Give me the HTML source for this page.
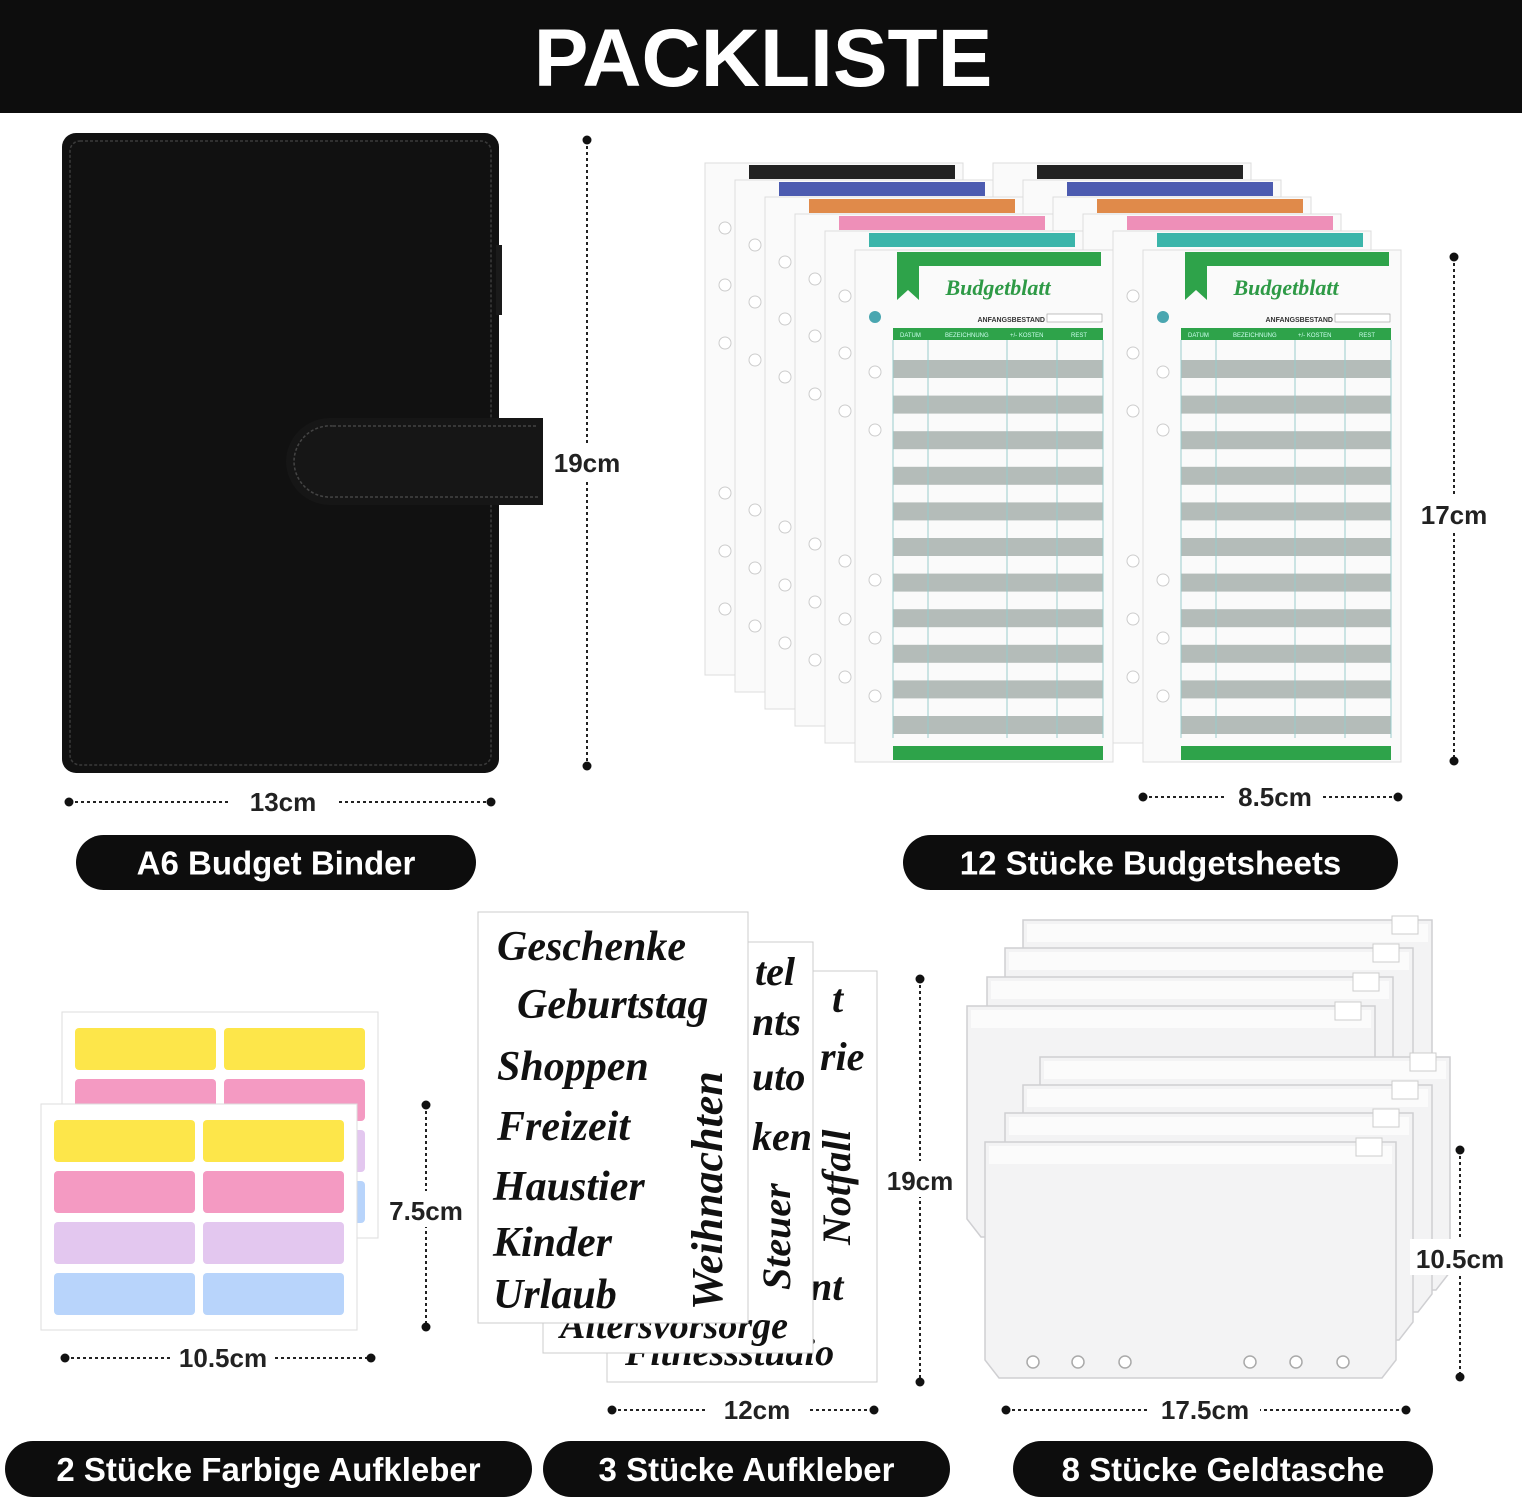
<!DOCTYPE html>
<html><head><meta charset="utf-8">
<style>
html,body{margin:0;padding:0;background:#fff;}
body{width:1522px;height:1500px;overflow:hidden;position:relative;font-family:"Liberation Sans",sans-serif;}
svg{position:absolute;left:0;top:0;}
</style></head>
<body>
<svg id="s" width="1522" height="1500" viewBox="0 0 1522 1500" xmlns="http://www.w3.org/2000/svg">
<rect x="0" y="0" width="1522" height="113" fill="#0d0d0d"/>
<text x="763" y="86" text-anchor="middle" font-family="Liberation Sans" font-weight="bold" font-size="82" fill="#fff">PACKLISTE</text>
<rect x="62" y="133" width="437" height="640" rx="14" fill="#111"/>
<rect x="70" y="141" width="421" height="624" rx="10" fill="none" stroke="#3a3a3a" stroke-width="1.5" stroke-dasharray="3 2"/>
<rect x="496" y="245" width="6" height="70" fill="#1a1a1a"/>
<path d="M330 418 H543 V505 H330 A44 44 0 0 1 286 461 A44 44 0 0 1 330 418Z" fill="#161616"/>
<path d="M333 426 H538 M538 497 H333 A36 36 0 0 1 294 461 A36 36 0 0 1 333 426" fill="none" stroke="#444" stroke-width="1.5" stroke-dasharray="3 2"/>
<g id="g"></g>
</svg>
<script>
var g=document.getElementById('g');var h='';
function dimV(x,y1,y2){h+='<line x1="'+x+'" y1="'+y1+'" x2="'+x+'" y2="'+y2+'" stroke="#222" stroke-width="2" stroke-dasharray="3 3"/><circle cx="'+x+'" cy="'+y1+'" r="4.5" fill="#111"/><circle cx="'+x+'" cy="'+y2+'" r="4.5" fill="#111"/>';}
function dimH(y,x1,x2){h+='<line x1="'+x1+'" y1="'+y+'" x2="'+x2+'" y2="'+y+'" stroke="#222" stroke-width="2" stroke-dasharray="3 3"/><circle cx="'+x1+'" cy="'+y+'" r="4.5" fill="#111"/><circle cx="'+x2+'" cy="'+y+'" r="4.5" fill="#111"/>';}
function lbl(x,y,t,w){h+='<rect x="'+(x-w/2)+'" y="'+(y-20)+'" width="'+w+'" height="36" fill="#fff"/><text x="'+x+'" y="'+(y+9)+'" text-anchor="middle" font-weight="bold" font-size="26" fill="#222">'+t+'</text>';}
function pill(x1,x2,y1,y2,t){h+='<rect x="'+x1+'" y="'+y1+'" width="'+(x2-x1)+'" height="'+(y2-y1)+'" rx="'+((y2-y1)/2)+'" fill="#0d0d0d"/><text x="'+((x1+x2)/2)+'" y="'+((y1+y2)/2+12)+'" text-anchor="middle" font-weight="bold" font-size="33" fill="#fff">'+t+'</text>';}
dimV(587,140,766);lbl(587,463,'19cm',80);
dimH(802,69,491);lbl(283,802,'13cm',110);
pill(76,476,835,890,'A6 Budget Binder');
var cols=['#222','#4c5bb0','#e08a4a','#ee8fb8','#3bb5aa'];
function stack(x0){
 for(var i=0;i<5;i++){var x=x0+i*30,y=163+i*17;
  h+='<rect x="'+x+'" y="'+y+'" width="258" height="512" fill="#fafafa" stroke="#ddd"/>';
  h+='<rect x="'+(x+44)+'" y="'+(y+2)+'" width="206" height="14" fill="'+cols[i]+'"/>';
  [65,122,180,330,388,446].forEach(function(d){h+='<circle cx="'+(x+20)+'" cy="'+(y+d)+'" r="6" fill="#fff" stroke="#ccc"/>';});
 }
 var x=x0+150,y=250;
 h+='<rect x="'+x+'" y="'+y+'" width="258" height="512" fill="#fafafa" stroke="#ddd"/>';
 h+='<path d="M'+(x+42)+' '+(y+2)+' H'+(x+246)+' V'+(y+16)+' H'+(x+64)+' V'+(y+50)+' L'+(x+53)+' '+(y+40)+' L'+(x+42)+' '+(y+50)+'Z" fill="#2ea34a"/>';
 h+='<text x="'+(x+143)+'" y="'+(y+45)+'" text-anchor="middle" font-family="Liberation Serif" font-style="italic" font-weight="bold" font-size="22" fill="#2e9a46">Budgetblatt</text>';
 h+='<text x="'+(x+190)+'" y="'+(y+72)+'" text-anchor="end" font-size="7" font-weight="bold" fill="#333">ANFANGSBESTAND</text><rect x="'+(x+192)+'" y="'+(y+64)+'" width="55" height="8" fill="#fff" stroke="#999" stroke-width=".6"/>';
 h+='<circle cx="'+(x+20)+'" cy="'+(y+67)+'" r="6" fill="#4aa6b0"/>';
 h+='<rect x="'+(x+38)+'" y="'+(y+78)+'" width="210" height="12" fill="#2ea34a"/>';
 h+='<text x="'+(x+45)+'" y="'+(y+87)+'" font-size="6" fill="#cfe">DATUM</text><text x="'+(x+90)+'" y="'+(y+87)+'" font-size="6" fill="#cfe">BEZEICHNUNG</text><text x="'+(x+155)+'" y="'+(y+87)+'" font-size="6" fill="#cfe">+/- KOSTEN</text><text x="'+(x+216)+'" y="'+(y+87)+'" font-size="6" fill="#cfe">REST</text>';
 for(var r=0;r<11;r++){h+='<rect x="'+(x+38)+'" y="'+(y+110+r*35.6)+'" width="210" height="18" fill="#b4bcb9"/>';}
 [38,73,152,202,248].forEach(function(d){h+='<line x1="'+(x+d)+'" y1="'+(y+90)+'" x2="'+(x+d)+'" y2="'+(y+488)+'" stroke="#9cc" stroke-width="1"/>';});
 h+='<rect x="'+(x+38)+'" y="'+(y+496)+'" width="210" height="14" fill="#2ea34a"/>';
 [122,180,330,388,446].forEach(function(d){h+='<circle cx="'+(x+20)+'" cy="'+(y+d)+'" r="6" fill="#fff" stroke="#ccc"/>';});
}
stack(993);stack(705);
dimV(1454,257,761);lbl(1454,515,'17cm',80);
dimH(797,1143,1398);lbl(1275,797,'8.5cm',96);
pill(903,1398,835,890,'12 Stücke Budgetsheets');
function lab(x,y){
 h+='<rect x="'+x+'" y="'+y+'" width="316" height="226" fill="#fff" stroke="#ddd"/>';
 var c=['#fde64a','#f49ac2','#e3c7ef','#b8d4fb'];
 for(var r=0;r<4;r++)for(var k=0;k<2;k++){h+='<rect x="'+(x+13+k*149)+'" y="'+(y+16+r*51)+'" width="141" height="42" rx="4" fill="'+c[r]+'"/>';}
}
lab(62,1012);lab(41,1104);
dimV(426,1105,1327);lbl(426,1211,'7.5cm',84);
dimH(1358,65,371);lbl(223,1358,'10.5cm',104);
function st(x,y){h+='<rect x="'+x+'" y="'+y+'" width="270" height="411" fill="#fff" stroke="#ccc"/>';}
st(607,971);
var f='font-family="Liberation Serif" font-style="italic" font-weight="bold" fill="#111"';
h+='<text x="820" y="1070" font-size="40" '+f+'>rie</text><text x="832" y="1012" font-size="40" '+f+'>t</text><text x="810" y="1300" font-size="40" '+f+'>nt</text><text x="625" y="1365" font-size="38" '+f+'>Fitnessstudio</text><text x="850" y="1245" font-size="40" '+f+' transform="rotate(-90 850 1245)">Notfall</text>';
st(543,942);
h+='<text x="755" y="985" font-size="40" '+f+'>tel</text><text x="752" y="1035" font-size="40" '+f+'>nts</text><text x="752" y="1090" font-size="40" '+f+'>uto</text><text x="752" y="1150" font-size="40" '+f+'>ken</text><text x="560" y="1338" font-size="38" '+f+'>Altersvorsorge</text><text x="790" y="1290" font-size="40" '+f+' transform="rotate(-90 790 1290)">Steuer</text>';
st(478,912);
h+='<text x="497" y="960" font-size="42" '+f+'>Geschenke</text><text x="517" y="1018" font-size="42" '+f+'>Geburtstag</text><text x="497" y="1080" font-size="42" '+f+'>Shoppen</text><text x="497" y="1140" font-size="42" '+f+'>Freizeit</text><text x="493" y="1200" font-size="42" '+f+'>Haustier</text><text x="493" y="1256" font-size="42" '+f+'>Kinder</text><text x="493" y="1308" font-size="42" '+f+'>Urlaub</text><text x="722" y="1310" font-size="44" '+f+' transform="rotate(-90 722 1310)">Weihnachten</text>';
dimV(920,979,1382);lbl(920,1181,'19cm',80);
dimH(1410,612,874);lbl(757,1410,'12cm',100);
function pouch(x1,y1,x2,y2){h+='<path d="M'+x1+' '+y1+' H'+x2+' V'+(y2-18)+' L'+(x2-14)+' '+y2+' H'+(x1+14)+' L'+x1+' '+(y2-18)+'Z" fill="#f3f3f4" stroke="#cfcfd2" stroke-width="1.5"/><rect x="'+(x1+4)+'" y="'+(y1+4)+'" width="'+(x2-x1-8)+'" height="18" fill="#fbfbfb"/><rect x="'+(x2-40)+'" y="'+(y1-4)+'" width="26" height="18" fill="#fff" stroke="#ccc"/>';}
pouch(1023,920,1432,1180);pouch(1005,948,1413,1200);pouch(987,977,1393,1220);pouch(967,1006,1375,1237);
pouch(1040,1057,1450,1290);pouch(1023,1085,1432,1312);pouch(1005,1113,1413,1340);pouch(985,1142,1396,1378);
[1033,1078,1125,1250,1296,1343].forEach(function(c){h+='<circle cx="'+c+'" cy="1362" r="6" fill="#fff" stroke="#aaa" stroke-width="1.5"/>';});
dimV(1460,1150,1377);lbl(1460,1259,'10.5cm',100);
dimH(1410,1006,1406);lbl(1205,1410,'17.5cm',110);
pill(5,532,1441,1497,'2 Stücke Farbige Aufkleber');
pill(543,950,1441,1497,'3 Stücke Aufkleber');
pill(1013,1433,1441,1497,'8 Stücke Geldtasche');
g.innerHTML=h;
</script>
</body></html>
